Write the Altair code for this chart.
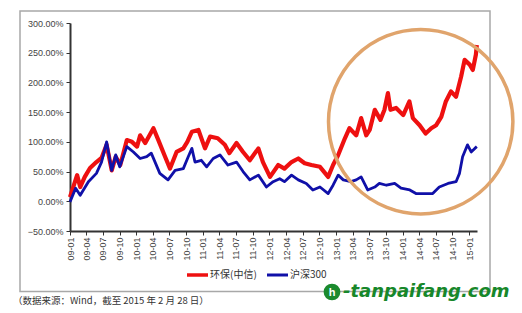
import altair as alt
import pandas as pd

# ---------------- data ----------------
red_name = "环保(中信)"
blue_name = "沪深300"

red_dates = ["2009-01-01", "2009-02-09", "2009-02-26", "2009-03-23", "2009-04-21", "2009-05-26",
             "2009-06-23", "2009-07-21", "2009-08-18", "2009-09-09", "2009-10-04", "2009-11-09",
             "2009-12-07", "2010-01-04", "2010-01-21", "2010-02-18", "2010-04-04", "2010-05-01",
             "2010-06-07", "2010-07-04", "2010-08-09", "2010-09-15", "2010-10-07", "2010-11-01",
             "2010-12-07", "2011-01-12", "2011-02-09", "2011-03-23", "2011-05-01", "2011-05-26",
             "2011-07-04", "2011-08-09", "2011-09-15", "2011-11-01", "2011-11-26", "2012-01-04",
             "2012-02-18", "2012-03-23", "2012-05-01", "2012-06-07", "2012-07-12", "2012-08-18",
             "2012-10-04", "2012-11-18", "2012-12-15", "2013-01-12", "2013-02-18", "2013-03-15",
             "2013-04-21", "2013-05-18", "2013-06-15", "2013-07-04", "2013-08-01", "2013-09-01",
             "2013-09-23", "2013-10-12", "2013-10-26", "2013-11-26", "2014-01-04", "2014-02-07",
             "2014-02-26", "2014-04-04", "2014-05-07", "2014-06-07", "2014-07-04", "2014-08-01",
             "2014-08-26", "2014-09-23", "2014-10-21", "2014-11-18", "2014-12-07", "2015-01-04",
             "2015-01-21", "2015-02-07", "2015-02-12"]
red_values = [7, 44, 24, 41, 56, 66,
              73, 95, 52, 75, 61, 103,
              100, 92, 111, 98, 123, 103,
              75, 55, 83, 89, 100, 117,
              120, 89, 109, 106, 95, 81,
              98, 83, 69, 89, 66, 41,
              61, 55, 66, 72, 64, 61,
              58, 41, 61, 78, 106, 123,
              111, 140, 111, 120, 154, 137,
              154, 182, 154, 157, 145, 168,
              140, 128, 114, 123, 128, 142,
              168, 185, 176, 210, 238, 230,
              221, 247, 263]

blue_dates = ["2009-01-01", "2009-02-01", "2009-02-26", "2009-04-12", "2009-05-26", "2009-06-23",
              "2009-07-21", "2009-08-18", "2009-09-09", "2009-10-01", "2009-11-09", "2009-12-15",
              "2010-01-21", "2010-02-26", "2010-03-23", "2010-05-09", "2010-06-23", "2010-08-01",
              "2010-09-15", "2010-10-12", "2010-11-01", "2010-11-18", "2010-12-23", "2011-01-21",
              "2011-02-26", "2011-04-04", "2011-05-18", "2011-07-04", "2011-08-09", "2011-09-15",
              "2011-11-01", "2011-12-15", "2012-01-21", "2012-02-26", "2012-03-23", "2012-05-01",
              "2012-06-07", "2012-07-21", "2012-08-26", "2012-10-04", "2012-11-18", "2012-12-15",
              "2013-01-12", "2013-02-09", "2013-03-23", "2013-04-21", "2013-05-18", "2013-06-23",
              "2013-08-01", "2013-08-26", "2013-10-04", "2013-11-18", "2013-12-23", "2014-02-09",
              "2014-03-15", "2014-04-21", "2014-06-15", "2014-07-21", "2014-09-07", "2014-10-21",
              "2014-11-09", "2014-11-26", "2014-12-23", "2015-01-12", "2015-02-01", "2015-02-12"]
blue_values = [-1, 22, 10, 33, 47, 66,
               100, 52, 78, 58, 92, 83,
               72, 75, 81, 47, 36, 52,
               55, 75, 89, 66, 69, 58,
               72, 78, 61, 66, 50, 36,
               44, 24, 33, 38, 33, 44,
               36, 30, 19, 24, 13, 27,
               44, 36, 33, 36, 41, 19,
               24, 30, 27, 30, 22, 19,
               13, 13, 13, 24, 30, 33,
               47, 75, 95, 83, 89, 92]

# highlight circle (centre in data units)
circle_date = ["2014-04-10"]
circle_value = [134]

y_ticks = [-50, 0, 50, 100, 150, 200, 250, 300]
footnote = "（数据来源：Wind，截至 2015 年 2 月 28 日）"
watermark = "-tanpaifang.com"

RED = "#ee1010"
BLUE = "#1010a8"

df_red = pd.DataFrame({"date": red_dates, "value": red_values, "series": red_name})
df_blue = pd.DataFrame({"date": blue_dates, "value": blue_values, "series": blue_name})
df_circle = pd.DataFrame({"date": circle_date, "value": circle_value})
one = pd.DataFrame({"a": [0]})

x_scale = alt.Scale(type="utc",
                    domain=[alt.DateTime(year=2009, month=1, date=1, utc=True),
                            alt.DateTime(year=2015, month=2, date=13, utc=True)])
y_scale = alt.Scale(domain=[-50, 300], nice=False, zero=False)
color_scale = alt.Scale(domain=[red_name, blue_name], range=[RED, BLUE])

x_axis = alt.Axis(labelExpr="utcFormat(datum.value, '%y-%m')",
                  tickCount=alt.TickCount(interval="month", step=3),
                  labelAngle=270, labelFontSize=9, labelFont="Liberation Sans",
                  labelColor="#444444", domainColor="#333333", domainWidth=2,
                  tickColor="#333333", tickSize=4, labelPadding=2, grid=False,
                  labelOverlap=False, labelFlush=False)
y_axis = alt.Axis(values=y_ticks,
                  labelExpr="format(datum.value / 100, '.2%')",
                  labelFontSize=9, labelFont="Liberation Sans", labelColor="#444444",
                  domainColor="#333333", domainWidth=2, tickColor="#333333",
                  tickSize=4, labelPadding=3, grid=False, labelOverlap=False,
                  labelFlush=False)

x_enc = alt.X("date:T", scale=x_scale, title=None, axis=x_axis)
y_enc = alt.Y("value:Q", scale=y_scale, title=None, axis=y_axis)
c_enc = alt.Color("series:N", scale=color_scale, legend=None)

frame = alt.Chart(one).mark_rect(fillOpacity=0, stroke="#a8a8a8", strokeWidth=1.5).encode(
    x=alt.value(-50), x2=alt.value(420), y=alt.value(-12), y2=alt.value(268.5))

red_line = alt.Chart(df_red).mark_line(strokeWidth=4.2, strokeJoin="round").encode(
    x=x_enc, y=y_enc, color=c_enc)
blue_line = alt.Chart(df_blue).mark_line(strokeWidth=2.8, strokeJoin="round").encode(
    x=x_enc, y=y_enc, color=c_enc)

ring = alt.Chart(df_circle).mark_point(shape="circle", filled=False, size=34000,
                                       stroke="#e0a46c", strokeWidth=3.5, opacity=1).encode(
    x=x_enc, y=y_enc)

# manual legend below the axis
leg_red_line = alt.Chart(one).mark_rule(color=RED, strokeWidth=3.5).encode(
    x=alt.value(117), x2=alt.value(138), y=alt.value(252))
leg_red_text = alt.Chart(one).mark_text(align="left", baseline="middle", fontSize=10,
                                        font="Noto Sans CJK SC", color="#333333").encode(
    x=alt.value(140), y=alt.value(252), text=alt.value(red_name))
leg_blue_line = alt.Chart(one).mark_rule(color=BLUE, strokeWidth=3).encode(
    x=alt.value(197), x2=alt.value(218), y=alt.value(252))
leg_blue_text = alt.Chart(one).mark_text(align="left", baseline="middle", fontSize=10,
                                         font="Noto Sans CJK SC", color="#333333").encode(
    x=alt.value(220), y=alt.value(252), text=alt.value(blue_name))

note = alt.Chart(one).mark_text(align="left", baseline="middle", fontSize=9.5,
                                font="Noto Sans CJK SC", color="#333333").encode(
    x=alt.value(-57), y=alt.value(278), text=alt.value(footnote))

logo = alt.Chart(one).mark_point(shape="circle", filled=True, size=280, color="#1b8a2e",
                                 opacity=1).encode(x=alt.value(262), y=alt.value(269))
logo_h = alt.Chart(one).mark_text(fontSize=11, fontWeight="bold", font="Liberation Sans",
                                  color="white").encode(
    x=alt.value(262), y=alt.value(269.5), text=alt.value("h"))
wm = alt.Chart(one).mark_text(align="left", baseline="middle", fontSize=18, fontWeight="bold",
                              fontStyle="italic", font="DejaVu Sans", color="#17872a").encode(
    x=alt.value(273), y=alt.value(269), text=alt.value(watermark))

chart = alt.layer(frame, red_line, blue_line, ring, leg_red_line, leg_red_text,
                  leg_blue_line, leg_blue_text, note, logo, logo_h, wm).properties(
    width=407, height=208,
    autosize=alt.AutoSizeParams(type="none"),
    padding={"left": 70, "top": 23, "right": 45, "bottom": 82},
    background="white",
).configure_view(stroke=None)

chart.save("out.html", embed_options={"renderer": "svg", "actions": False})
